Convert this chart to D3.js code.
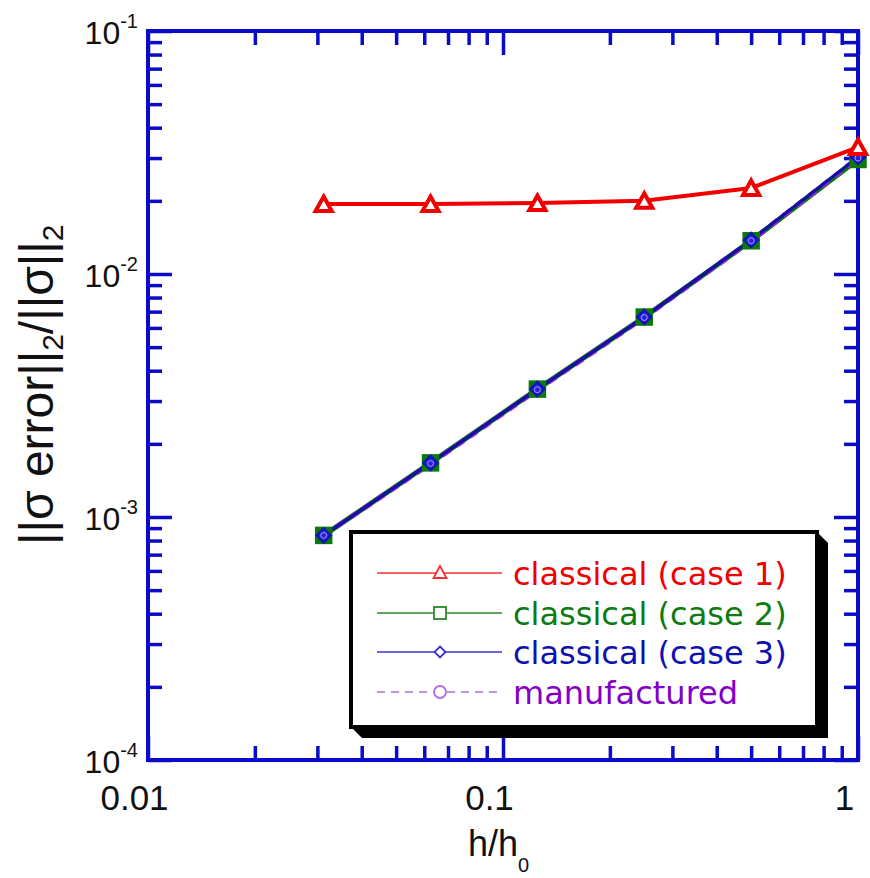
<!DOCTYPE html>
<html>
<head>
<meta charset="utf-8">
<script src="https://cdn.jsdelivr.net/npm/d3@7"></script>
<style>
  html, body { margin: 0; padding: 0; background: #fff; }
  svg { display: block; }
</style>
</head>
<body>
<svg id="chart" width="870" height="878"></svg>
<script>
// Grid refinement levels h/h0
const hRatio = [0.03125, 0.0625, 0.125, 0.25, 0.5, 1];

// Relative L2 stress error for each run
const case1 = [0.0194, 0.0194, 0.0196, 0.0200, 0.0226, 0.0333];
const case2 = [0.00084, 0.00167, 0.00336, 0.00665, 0.0137, 0.0296];
const case3 = [0.00084, 0.00167, 0.00336, 0.00665, 0.0138, 0.0303];
const manufactured = [0.00084, 0.00166, 0.00334, 0.00662, 0.0137, 0.0300];

const legendLabels = ["classical (case 1)", "classical (case 2)", "classical (case 3)", "manufactured"];
const xTickLabels = ["0.01", "0.1", "1"];
const yExponents = ["-4", "-3", "-2", "-1"];

const svg = d3.select("#chart");
const L = 148, R = 858, T = 31, B = 760;
const axisBlue = "#0a0ac8";

const x = d3.scaleLog().domain([0.01, 1]).range([L, R]);
const y = d3.scaleLog().domain([1e-4, 1e-1]).range([B, T]);

// ---- ticks (inward, mirrored on all four sides) ----
const isMajor = v => Math.abs(Math.log10(v) - Math.round(Math.log10(v))) < 1e-9;
const xAll = x.ticks(), yAll = y.ticks();
const xMinor = xAll.filter(v => !isMajor(v)), xMajor = xAll.filter(isMajor);
const yMinor = yAll.filter(v => !isMajor(v)), yMajor = yAll.filter(isMajor);
const minorLen = 14, majorLen = 24;

function tickAxis(axisFn, scale, values, len, tx, ty) {
  const g = svg.append("g")
    .attr("transform", `translate(${tx},${ty})`)
    .call(axisFn(scale).tickValues(values).tickSize(-len).tickFormat(() => ""));
  g.select(".domain").remove();
  g.selectAll(".tick line").attr("stroke", axisBlue).attr("stroke-width", 3.5);
  return g;
}
tickAxis(d3.axisBottom, x, xMinor, minorLen, 0, B);
tickAxis(d3.axisBottom, x, xMajor, majorLen, 0, B);
tickAxis(d3.axisTop, x, xMinor, minorLen, 0, T);
tickAxis(d3.axisTop, x, xMajor, majorLen, 0, T);
tickAxis(d3.axisLeft, y, yMinor, minorLen, L, 0);
tickAxis(d3.axisLeft, y, yMajor, majorLen, L, 0);
tickAxis(d3.axisRight, y, yMinor, minorLen, R, 0);
tickAxis(d3.axisRight, y, yMajor, majorLen, R, 0);

// frame
svg.append("rect")
  .attr("x", L).attr("y", T).attr("width", R - L).attr("height", B - T)
  .attr("fill", "none").attr("stroke", axisBlue).attr("stroke-width", 4);

// ---- tick labels ----
const xl = svg.append("g").attr("transform", `translate(0,${B})`)
  .call(d3.axisBottom(x).tickValues(xMajor).tickSize(0)
    .tickFormat((d, i) => xTickLabels[i]));
xl.select(".domain").remove();
xl.selectAll(".tick text")
  .attr("y", 50).attr("dy", 0).attr("dx", -14)
  .attr("font-family", "'Liberation Sans', Arial, sans-serif")
  .attr("font-size", 35).attr("fill", "#111");

const yl = svg.append("g").attr("transform", `translate(${L},0)`)
  .call(d3.axisLeft(y).tickValues(yMajor).tickSize(0).tickFormat(() => ""));
yl.select(".domain").remove();
yl.selectAll(".tick text").each(function (d, i) {
  const t = d3.select(this)
    .attr("x", -10).attr("dy", 0).attr("y", 12)
    .attr("text-anchor", "end")
    .attr("font-family", "'Liberation Sans', Arial, sans-serif")
    .attr("fill", "#111");
  t.append("tspan").attr("font-size", 32).text("10");
  t.append("tspan").attr("font-size", 20).attr("dy", -16).text(yExponents[i]);
});

// ---- axis titles ----
const yTitle = svg.append("text")
  .attr("transform", "translate(53,545) rotate(-90)")
  .attr("font-family", "'Liberation Sans', Arial, sans-serif")
  .attr("font-size", 48).attr("fill", "#111");
yTitle.append("tspan").text("||σ error||");
yTitle.append("tspan").attr("font-size", 30).attr("dy", 10).text("2");
yTitle.append("tspan").attr("dy", -10).text("/||σ||");
yTitle.append("tspan").attr("font-size", 30).attr("dy", 10).text("2");

const xTitle = svg.append("text")
  .attr("x", 468).attr("y", 856)
  .attr("font-family", "'Liberation Sans', Arial, sans-serif")
  .attr("font-size", 36).attr("fill", "#111");
xTitle.append("tspan").text("h/h");
xTitle.append("tspan").attr("font-size", 20).attr("dy", 16).text("0");

// ---- series ----
const line = d3.line().x((d, i) => x(hRatio[i])).y(d => y(d));
const triPath = s => `M0,${-s}L${s * 0.95},${s * 0.7}L${-s * 0.95},${s * 0.7}Z`;

// green (case 2) underneath
svg.append("path").datum(case2).attr("d", line)
  .attr("fill", "none").attr("stroke", "#0b7a0b").attr("stroke-width", 5);
// manufactured, dashed
svg.append("path").datum(manufactured).attr("d", line)
  .attr("fill", "none").attr("stroke", "#9a28d8").attr("stroke-width", 5)
  .attr("stroke-dasharray", "9,7");
// blue (case 3) on top
svg.append("path").datum(case3).attr("d", line)
  .attr("fill", "none").attr("stroke", "#12129e").attr("stroke-width", 3.4);

svg.append("g").selectAll("rect").data(case2).join("rect")
  .attr("x", (d, i) => x(hRatio[i]) - 8).attr("y", d => y(d) - 8)
  .attr("width", 16).attr("height", 16)
  .attr("fill", "#0b7a0b").attr("stroke", "#0b7a0b").attr("stroke-width", 1.5);
svg.append("g").selectAll("path").data(case3).join("path")
  .attr("transform", (d, i) => `translate(${x(hRatio[i])},${y(d)})`)
  .attr("d", "M0,-7L7,0L0,7L-7,0Z")
  .attr("fill", "#2424d8").attr("stroke", "#1414b8").attr("stroke-width", 2.5);
svg.append("g").selectAll("circle").data(manufactured).join("circle")
  .attr("cx", (d, i) => x(hRatio[i])).attr("cy", d => y(d)).attr("r", 3)
  .attr("fill", "none").attr("stroke", "#a89cf4").attr("stroke-width", 1);

// red (case 1)
svg.append("path").datum(case1).attr("d", line)
  .attr("fill", "none").attr("stroke", "#f20000").attr("stroke-width", 4);
svg.append("g").selectAll("path").data(case1).join("path")
  .attr("transform", (d, i) => `translate(${x(hRatio[i])},${y(d) + 1})`)
  .attr("d", triPath(8.5))
  .attr("fill", "#fff").attr("stroke", "#f20000").attr("stroke-width", 4)
  .attr("stroke-linejoin", "miter");

// ---- legend ----
const lx0 = 351, ly0 = 532, lx1 = 817, ly1 = 727, sh = 11;
svg.append("path")
  .attr("d", `M${lx0},${ly1}L${lx0 + sh},${ly1 + sh}L${lx1 + sh},${ly1 + sh}L${lx1 + sh},${ly0 + sh}L${lx1},${ly0}Z`)
  .attr("fill", "#000");
svg.append("rect")
  .attr("x", lx0).attr("y", ly0).attr("width", lx1 - lx0).attr("height", ly1 - ly0)
  .attr("fill", "#fff").attr("stroke", "#000").attr("stroke-width", 4);

const legendRows = [573, 613, 652, 692];
const legendLine = ["#f43030", "#2a8a2a", "#3434d0", "#b070e0"];
const legendText = ["#f00000", "#0d7a12", "#1010b0", "#8400c8"];
const lg = svg.append("g");
legendLabels.forEach((lab, i) => {
  const ry = legendRows[i];
  lg.append("line").attr("x1", 377).attr("x2", 502).attr("y1", ry).attr("y2", ry)
    .attr("stroke", legendLine[i]).attr("stroke-width", 1.6)
    .attr("stroke-dasharray", i === 3 ? "8,6" : null);
  const m = lg.append("g").attr("transform", `translate(440,${ry})`);
  if (i === 0) m.append("path").attr("d", "M0,-7L6.5,5L-6.5,5Z");
  if (i === 1) m.append("rect").attr("x", -6).attr("y", -6).attr("width", 12).attr("height", 12);
  if (i === 2) m.append("path").attr("d", "M0,-5.5L5.5,0L0,5.5L-5.5,0Z");
  if (i === 3) m.append("circle").attr("r", 6);
  m.selectAll("*").attr("fill", "#fff").attr("stroke", legendLine[i]).attr("stroke-width", 1.8);
  lg.append("text").attr("x", 513).attr("y", ry + 12)
    .attr("font-family", "'DejaVu Sans', sans-serif").attr("font-size", 32)
    .attr("fill", legendText[i]).text(lab);
});
</script>
</body>
</html>
